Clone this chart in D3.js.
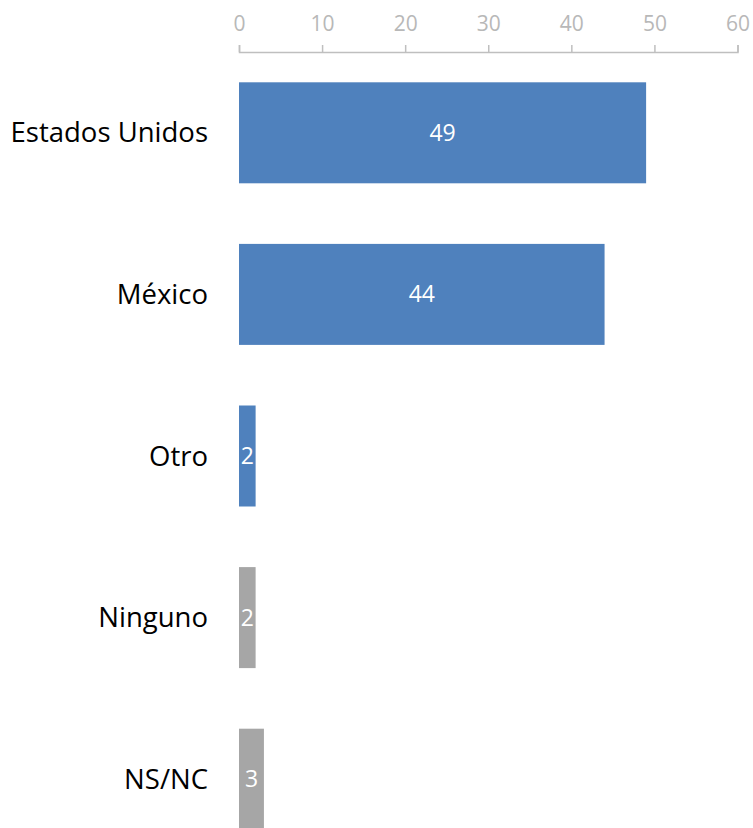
<!DOCTYPE html>
<html>
<head>
<meta charset="utf-8">
<script src="https://cdn.jsdelivr.net/npm/d3@7"></script>
<style>
  body { margin: 0; background: #fff; }
  svg { display: block; }
</style>
</head>
<body>
<div id="chart"></div>
<script>
// data
var categories = ["Estados Unidos", "México", "Otro", "Ninguno", "NS/NC"];
var values = [49, 44, 2, 2, 3];
var barColors = ["#4F81BD", "#4F81BD", "#4F81BD", "#A6A6A6", "#A6A6A6"];
var tickValues = [0, 10, 20, 30, 40, 50, 60];

const svgWidth = 753;
const svgHeight = 828;

var svg = d3.select("#chart")
  .append("svg")
  .attr("width", svgWidth)
  .attr("height", svgHeight);

// x scale: 0 at 239px, 60 at 737.5px
var xScale = d3.scaleLinear()
  .domain([0, 60])
  .range([239, 737.5]);

// bands continue below the bottom of the page
var yScale = d3.scaleBand()
  .domain(categories)
  .range([52, 860])
  .paddingInner(0.375)
  .paddingOuter(0.1875);

var font = "'Open Sans', sans-serif";

// top axis, ticks pointing up
var axis = svg.append("g")
  .attr("transform", "translate(0, 52)")
  .call(d3.axisTop(xScale).tickValues(tickValues).tickSize(7).tickSizeOuter(7).tickPadding(14));

axis.select(".domain").attr("stroke", "#BFBFBF").attr("stroke-width", 1.5);
axis.selectAll(".tick line").attr("stroke", "#BFBFBF").attr("stroke-width", 1.5);
axis.selectAll(".tick text")
  .attr("fill", "#B8B8B8")
  .style("font-family", font)
  .style("font-size", "21px");

// bars
var rows = categories.map(function(c, i) {
  return { cat: c, value: values[i], color: barColors[i] };
});

svg.selectAll("rect.bar")
  .data(rows)
  .enter()
  .append("rect")
  .attr("class", "bar")
  .attr("x", xScale(0))
  .attr("y", d => yScale(d.cat))
  .attr("width", d => xScale(d.value) - xScale(0))
  .attr("height", yScale.bandwidth())
  .attr("fill", d => d.color);

// value labels inside bars
svg.selectAll("text.value")
  .data(rows)
  .enter()
  .append("text")
  .attr("class", "value")
  .attr("x", d => (xScale(0) + xScale(d.value)) / 2)
  .attr("y", d => yScale(d.cat) + yScale.bandwidth() / 2)
  .attr("dy", "0.35em")
  .attr("text-anchor", "middle")
  .attr("fill", "#fff")
  .style("font-family", font)
  .style("font-size", "23px")
  .text(d => d.value);

// category labels
svg.selectAll("text.cat")
  .data(rows)
  .enter()
  .append("text")
  .attr("class", "cat")
  .attr("x", 208)
  .attr("y", d => yScale(d.cat) + yScale.bandwidth() / 2)
  .attr("dy", "0.35em")
  .attr("text-anchor", "end")
  .attr("fill", "#000")
  .style("font-family", font)
  .style("font-size", "27.5px")
  .text(d => d.cat);
</script>
</body>
</html>
